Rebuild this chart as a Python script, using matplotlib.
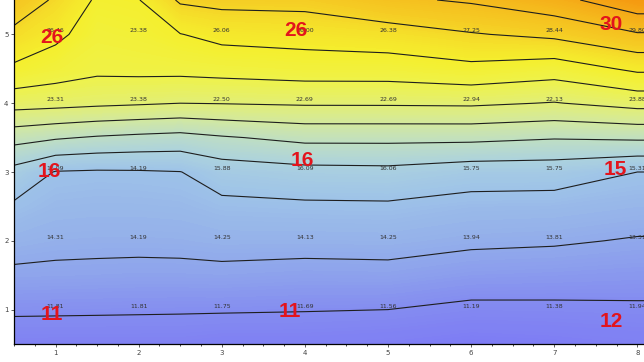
import numpy as np
import matplotlib
matplotlib.use("Agg")
import matplotlib.pyplot as plt
from matplotlib.colors import LinearSegmentedColormap

# grid of the surface (estimated from the contour lines of the picture)
x_nodes = [0.5, 1, 1.5, 2, 2.5, 3, 4, 5, 6, 7, 8, 8.1]
y_nodes = [0.5, 1, 1.5, 2, 2.5, 3, 3.5, 4, 4.5, 5, 5.5]
z_rows = [
    [10.7, 10.7, 10.7, 10.7, 10.7, 10.55, 10.56, 10.4, 10.11, 10.25, 10.49, 10.49],
    [11.7, 11.68, 11.66, 11.64, 11.62, 11.61, 11.56, 11.5, 11.2, 11.23, 11.29, 11.29],
    [12.75, 12.71, 12.68, 12.64, 12.65, 12.68, 12.56, 12.6, 12.28, 12.2, 12.1, 12.1],
    [13.55, 13.38, 13.34, 13.33, 13.36, 13.48, 13.46, 13.5, 13.25, 13.15, 12.9, 12.9],
    [14.3, 13.9, 13.84, 13.85, 13.91, 14.17, 14.27, 14.3, 14.0, 13.95, 13.7, 13.7],
    [15.5, 14.43, 14.34, 14.37, 14.47, 15.2, 15.52, 15.59, 15.17, 15.13, 14.5, 14.5],
    [18.05, 17.66, 17.36, 17.16, 17.0, 17.36, 17.88, 17.88, 17.86, 17.6, 17.74, 17.74],
    [21.1, 20.98, 20.8, 20.66, 20.5, 20.55, 20.67, 20.68, 20.73, 20.43, 21.02, 21.02],
    [23.25, 22.75, 22.33, 22.4, 22.42, 22.54, 22.74, 22.76, 23.13, 22.72, 23.78, 23.78],
    [24.65, 23.83, 22.81, 23.0, 23.46, 23.92, 24.1, 24.36, 24.9, 25.33, 26.36, 26.36],
    [26.0, 24.8, 23.3, 23.45, 25.2, 25.42, 25.46, 26.24, 26.68, 27.5, 29.1, 29.1],
]
line_levels = [11.5, 13, 14.5, 16, 17.5, 19, 20.5, 22, 23.5, 25, 26.5, 28]

# point labels
pt_x = [1, 2, 3, 4, 5, 6, 7, 8]
pt_y = [1, 2, 3, 4, 5]
pt_text = [
    ["11.81", "11.81", "11.75", "11.69", "11.56", "11.19", "11.38", "11.94"],
    ["14.31", "14.19", "14.25", "14.13", "14.25", "13.94", "13.81", "13.31"],
    ["16.09", "14.19", "15.88", "16.09", "16.06", "15.75", "15.75", "15.31"],
    ["23.31", "23.38", "22.50", "22.69", "22.69", "22.94", "22.13", "23.88"],
    ["26.46", "23.38", "26.06", "26.00", "26.38", "27.25", "28.44", "29.80"],
]

# red annotations
red_text = ["26", "26", "30", "16", "16", "15", "11", "11", "12"]
red_x = [0.96, 3.89, 7.69, 0.93, 3.97, 7.73, 0.95, 3.82, 7.69]
red_y = [4.96, 5.06, 5.14, 3.01, 3.16, 3.03, 0.93, 0.97, 0.83]

color_stops = [
    (10, "#7d7af5"), (11.5, "#848cf0"), (13, "#91aaeb"), (14.5, "#9ec3e8"),
    (16, "#acd2de"), (17.5, "#bedec3"), (19, "#d2e8a0"), (20.5, "#e1ee78"),
    (22, "#eef24b"), (23.5, "#f5ef2d"), (24.5, "#f5e02a"), (25.5, "#f5cd24"),
    (27, "#f5b81c"), (28.5, "#f5a214"), (30, "#f58c0a"),
]
cmap = LinearSegmentedColormap.from_list(
    "surf", [((v - 10) / 20, c) for v, c in color_stops])

fig = plt.figure(figsize=(6.44, 3.62), dpi=100)
ax = fig.add_axes([14 / 644, 18 / 362, 630 / 644, 344 / 362])

X, Y = np.meshgrid(x_nodes, y_nodes)
Z = np.array(z_rows)
ax.contourf(X, Y, Z, levels=np.linspace(9.5, 30.5, 211), cmap=cmap,
            vmin=10, vmax=30, antialiased=False)
ax.contour(X, Y, Z, levels=line_levels, colors="#1e1e1e", linewidths=0.8)

for i, yy in enumerate(pt_y):
    for j, xx in enumerate(pt_x):
        ax.text(xx, yy + 0.05, pt_text[i][j], fontsize=4.5, color="#333333",
                ha="center", va="center")

for t, xx, yy in zip(red_text, red_x, red_y):
    ax.text(xx, yy, t, fontsize=15, fontweight="bold", color="#e3141c",
            family="Liberation Sans", ha="center", va="center")

ax.set_xlim(0.5, 8.08)
ax.set_ylim(0.5, 5.5)
ax.set_xticks(pt_x)
ax.set_yticks(pt_y)
ax.set_xticks(np.arange(0.5, 8.1, 0.25), minor=True)
ax.tick_params(labelsize=5, length=2, width=0.6, colors="#444444", pad=2)
ax.tick_params(which="minor", length=1.5, width=0.5)
ax.spines["top"].set_visible(False)
ax.spines["right"].set_visible(False)
ax.spines["left"].set_linewidth(0.9)
ax.spines["bottom"].set_linewidth(0.9)

fig.savefig("out.png", dpi=100)
